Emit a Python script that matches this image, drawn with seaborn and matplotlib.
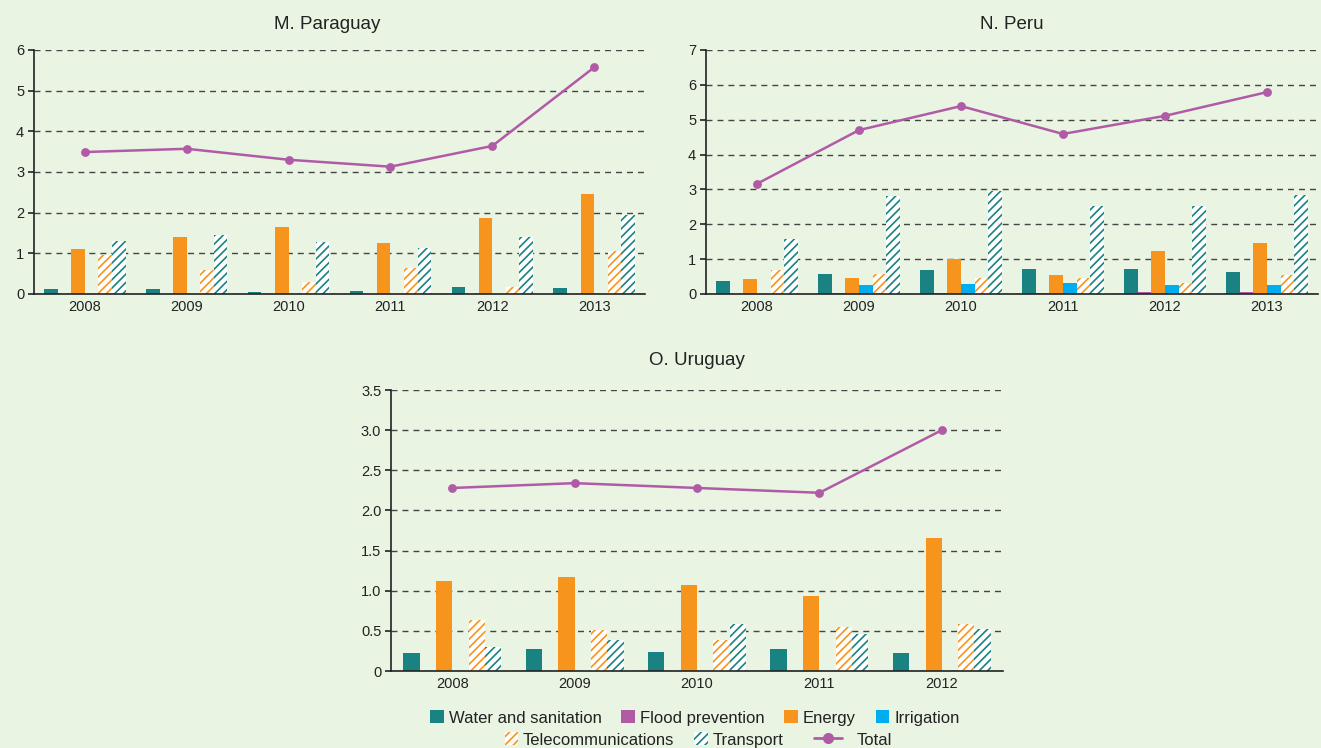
import numpy as np
import pandas as pd
import matplotlib.pyplot as plt
import seaborn as sns
from matplotlib.patches import Patch
from matplotlib.lines import Line2D
from matplotlib.ticker import FuncFormatter

sns.set_theme(style="white")
plt.rcParams['font.family'] = ['Liberation Sans', 'DejaVu Sans']
plt.rcParams['hatch.linewidth'] = 1.2

sectors = ["Water and sanitation", "Flood prevention", "Energy", "Irrigation",
           "Telecommunications", "Transport"]
hatched = ["Telecommunications", "Transport"]
teal, purple, orange, cyan = "#1A8282", "#B15BA7", "#F7941D", "#00AEEF"
palette = {"Water and sanitation": teal, "Flood prevention": purple, "Energy": orange,
           "Irrigation": cyan, "Telecommunications": orange, "Transport": teal}
bg = "#E9F4E3"

# M. Paraguay
py_years = ["2008", "2009", "2010", "2011", "2012", "2013"]
py_water = [0.11, 0.12, 0.05, 0.07, 0.17, 0.14]
py_flood = [0, 0, 0, 0, 0, 0]
py_energy = [1.10, 1.41, 1.65, 1.26, 1.87, 2.45]
py_irrig = [0, 0, 0, 0, 0, 0]
py_telecom = [0.95, 0.59, 0.29, 0.64, 0.17, 1.06]
py_transport = [1.30, 1.45, 1.28, 1.14, 1.41, 1.93]
py_total = [3.49, 3.57, 3.30, 3.13, 3.64, 5.57]

# N. Peru
pe_years = ["2008", "2009", "2010", "2011", "2012", "2013"]
pe_water = [0.37, 0.57, 0.69, 0.72, 0.72, 0.63]
pe_flood = [0.01, 0.02, 0.02, 0.04, 0.05, 0.06]
pe_energy = [0.43, 0.46, 1.00, 0.54, 1.23, 1.46]
pe_irrig = [0, 0.26, 0.28, 0.32, 0.26, 0.26]
pe_telecom = [0.70, 0.57, 0.45, 0.47, 0.31, 0.55]
pe_transport = [1.58, 2.80, 2.95, 2.53, 2.53, 2.85]
pe_total = [3.16, 4.70, 5.39, 4.59, 5.11, 5.79]

# O. Uruguay
uy_years = ["2008", "2009", "2010", "2011", "2012"]
uy_water = [0.23, 0.27, 0.24, 0.27, 0.22]
uy_flood = [0, 0, 0, 0, 0]
uy_energy = [1.12, 1.17, 1.07, 0.93, 1.66]
uy_irrig = [0, 0, 0, 0, 0]
uy_telecom = [0.63, 0.51, 0.39, 0.55, 0.59]
uy_transport = [0.30, 0.39, 0.59, 0.46, 0.52]
uy_total = [2.28, 2.34, 2.28, 2.22, 3.00]


def draw(ax, title, years, series, total, ymax, ystep, fmt, title_x=0.5, title_pad=16):
    rows = []
    for s, vals in zip(sectors, series):
        for y, v in zip(years, vals):
            rows.append((y, s, v))
    df = pd.DataFrame(rows, columns=["year", "sector", "value"])
    sns.barplot(data=df, x="year", y="value", hue="sector", order=years, hue_order=sectors,
                palette=palette, width=0.8, errorbar=None, saturation=1, linewidth=0,
                legend=False, ax=ax)
    for cont, s in zip(ax.containers, sectors):
        if s in hatched:
            for bar in cont:
                bar.set_facecolor("white")
                bar.set_edgecolor(palette[s])
                bar.set_hatch("////")
    sns.pointplot(x=years, y=total, order=years, color=purple, markers="o", markersize=5,
                  linewidth=1.8, errorbar=None, ax=ax)
    n = len(years)
    ax.set_xlim(-0.5, n - 0.5)
    ax.set_ylim(0, ymax)
    ax.set_yticks(np.arange(0, ymax + ystep / 2, ystep))
    ax.yaxis.set_major_formatter(FuncFormatter(fmt))
    ax.set_xticks(range(n))
    ax.set_xticks(np.arange(-0.5, n, 1), minor=True)
    ax.tick_params(axis="x", which="major", length=0, labelsize=10.5, pad=4, colors="#222222")
    ax.tick_params(axis="x", which="minor", length=4, width=1.2, direction="out", color="#222222")
    ax.tick_params(axis="y", length=4, width=1.2, direction="out", left=True, labelsize=10.5,
                   pad=3, colors="#222222")
    ax.yaxis.grid(True, color="#444444", linestyle=(0, (4.3, 3.6)), linewidth=1)
    ax.xaxis.grid(False)
    ax.set_axisbelow(True)
    ax.set_facecolor(bg)
    for side in ["top", "right"]:
        ax.spines[side].set_visible(False)
    for side in ["left", "bottom"]:
        ax.spines[side].set_color("#222222")
        ax.spines[side].set_linewidth(1.2)
    ax.set_xlabel("")
    ax.set_ylabel("")
    ax.set_title(title, fontsize=13.5, pad=title_pad, x=title_x, color="#222222")


fig = plt.figure(figsize=(13.21, 7.48), dpi=100, facecolor=bg)
ax1 = fig.add_axes([0.0257, 0.607, 0.4626, 0.3262])
ax2 = fig.add_axes([0.5344, 0.607, 0.4633, 0.3262])
ax3 = fig.add_axes([0.296, 0.1029, 0.4633, 0.3757])

int_fmt = lambda v, p: f"{v:.0f}"
dec_fmt = lambda v, p: "0" if v == 0 else f"{v:.1f}"

draw(ax1, "M. Paraguay", py_years,
     [py_water, py_flood, py_energy, py_irrig, py_telecom, py_transport], py_total, 6, 1, int_fmt,
     title_x=0.48, title_pad=15)
draw(ax2, "N. Peru", pe_years,
     [pe_water, pe_flood, pe_energy, pe_irrig, pe_telecom, pe_transport], pe_total, 7, 1, int_fmt,
     title_pad=15)
draw(ax3, "O. Uruguay", uy_years,
     [uy_water, uy_flood, uy_energy, uy_irrig, uy_telecom, uy_transport], uy_total, 3.5, 0.5, dec_fmt,
     title_pad=18)

leg_kw = dict(frameon=False, fontsize=12, handlelength=0.8, handleheight=0.8,
              handletextpad=0.3, columnspacing=1.2, borderpad=0, labelcolor="#222222")
h1 = [Patch(facecolor=palette[s], edgecolor="none", label=s) for s in sectors[:4]]
h2 = [Patch(facecolor="white", edgecolor=palette[s], hatch="////", linewidth=0, label=s)
      for s in hatched]
h3 = [Line2D([], [], color=purple, marker="o", markersize=7, linewidth=2, label="Total")]
fig.legend(handles=h1, loc="center", bbox_to_anchor=(0.526, 0.040), ncol=4, **leg_kw)
fig.legend(handles=h2, loc="center", bbox_to_anchor=(0.4875, 0.0107), ncol=2, **leg_kw)
kw3 = dict(leg_kw, handlelength=1.7, handletextpad=0.9)
fig.legend(handles=h3, loc="center", bbox_to_anchor=(0.6457, 0.0107), ncol=1, **kw3)

fig.savefig("out.png", dpi=100, facecolor=bg)
